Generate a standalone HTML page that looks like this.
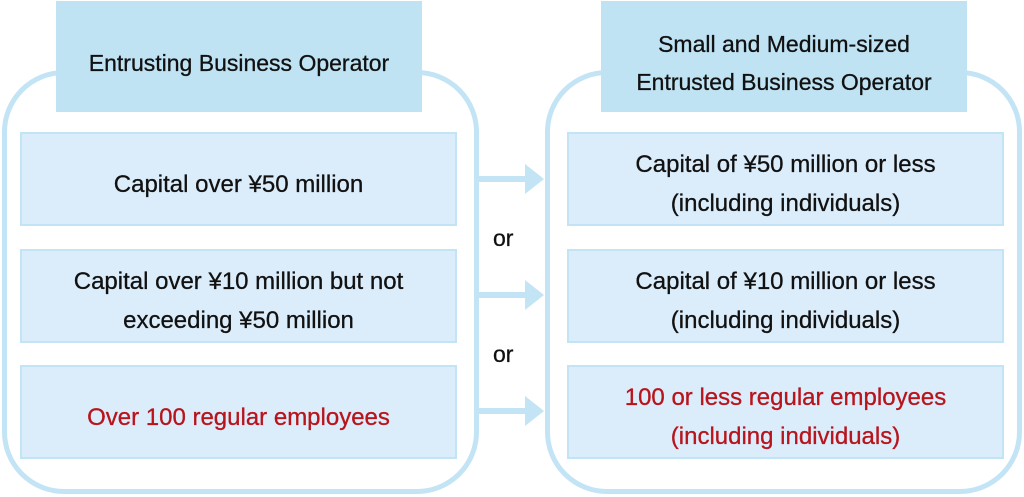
<!DOCTYPE html>
<html><head><style>
body{margin:0;width:1024px;height:497px;background:#fff;position:relative;overflow:hidden;font-family:"Liberation Sans",sans-serif;}
.outer{position:absolute;border:5px solid #c3e4f4;border-radius:62px;box-sizing:border-box;}
.hd{position:absolute;background:#c0e3f4;display:flex;align-items:center;justify-content:center;text-align:center;font-size:23px;line-height:38px;color:#111;padding-top:12px;box-sizing:border-box;-webkit-text-stroke:0.3px #111;}
.bx{position:absolute;background:#dbedfb;border:2px solid #c3e4f4;box-sizing:border-box;display:flex;align-items:center;justify-content:center;text-align:center;font-size:24px;line-height:39px;color:#111;padding-top:10px;-webkit-text-stroke:0.3px #111;}
.red{color:#b8141c;-webkit-text-stroke:0.3px #b8141c;}
.or{position:absolute;font-size:23px;color:#111;left:493px;-webkit-text-stroke:0.3px #111;}
</style></head><body>
<div class="outer" style="left:2px;top:70px;width:477px;height:424px;"></div>
<div class="outer" style="left:545px;top:70px;width:477px;height:424px;"></div>
<div class="hd" style="left:56px;top:1px;width:366px;height:111px;">Entrusting Business Operator</div>
<div class="hd" style="left:601px;top:1px;width:366px;height:111px;">Small and Medium-sized<br>Entrusted Business Operator</div>
<div class="bx" style="left:20px;top:132px;width:437px;height:94px;">Capital over ¥50 million</div>
<div class="bx" style="left:20px;top:249px;width:437px;height:94px;">Capital over ¥10 million but not<br>exceeding ¥50 million</div>
<div class="bx red" style="left:20px;top:365px;width:437px;height:94px;">Over 100 regular employees</div>
<div class="bx" style="left:567px;top:132px;width:437px;height:94px;">Capital of ¥50 million or less<br>(including individuals)</div>
<div class="bx" style="left:567px;top:249px;width:437px;height:94px;">Capital of ¥10 million or less<br>(including individuals)</div>
<div class="bx red" style="left:567px;top:365px;width:437px;height:94px;">100 or less regular employees<br>(including individuals)</div>
<svg style="position:absolute;left:0;top:0" width="1024" height="497">
<g fill="#c3e4f4">
<rect x="478" y="176" width="48" height="6"/><polygon points="525,164 544,179 525,194"/>
<rect x="478" y="292" width="48" height="6"/><polygon points="525,280 544,295 525,310"/>
<rect x="478" y="408" width="48" height="6"/><polygon points="525,396 544,411 525,426"/>
</g></svg>
<div class="or" style="top:225px;">or</div>
<div class="or" style="top:341px;">or</div>
</body></html>
